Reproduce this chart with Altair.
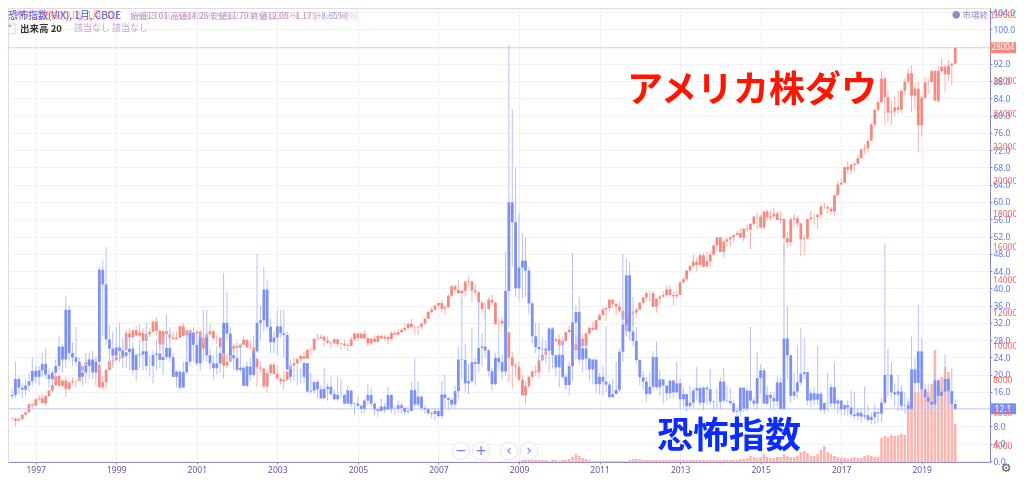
import altair as alt
import pandas as pd

W, H = 982, 454

# ---------------- data (monthly, Jun 1996 .. Nov 2019) ----------------
months = pd.date_range("1996-06-01", periods=282, freq="MS").strftime("%Y-%m-%d").tolist()
vol_months = pd.date_range("2009-01-01", periods=131, freq="MS").strftime("%Y-%m-%d").tolist()

vix_open_first = 15.0
vix_high = [
    16.8, 23.0, 19.5, 18.0, 19.0, 20.5, 24.0,
    22.0, 22.0, 25.0, 26.0, 21.5, 21.0, 23.5, 29.0, 27.0, 38.2, 36.0, 27.5,
    31.0, 24.0, 22.0, 25.0, 25.0, 25.5, 24.0, 45.0, 46.5, 49.5, 31.5, 30.0,
    31.0, 32.0, 28.5, 29.0, 28.5, 27.5, 25.0, 28.0, 28.0, 32.0, 24.5, 25.5,
    28.0, 27.5, 29.0, 34.0, 31.0, 25.0, 21.0, 21.0, 23.0, 30.0, 30.0, 31.0,
    29.5, 29.5, 35.0, 35.0, 26.0, 24.5, 26.5, 26.5, 43.5, 39.0, 31.0, 26.5,
    25.5, 27.0, 22.0, 23.0, 24.0, 29.0, 48.0, 36.0, 45.0, 42.0, 33.0, 30.0,
    35.0, 35.0, 35.0, 30.0, 23.5, 22.0, 22.0, 21.5, 23.0, 22.5, 20.5, 18.5,
    19.0, 17.5, 21.5, 18.0, 19.5, 16.5, 19.5, 19.0, 15.5, 17.5, 16.5, 13.5,
    14.8, 13.0, 14.5, 17.7, 17.0, 13.5, 12.5, 14.5, 13.5, 17.2, 15.5, 12.8,
    14.0, 13.5, 12.5, 12.5, 18.5, 23.8, 18.5, 15.2, 13.0, 12.2, 11.5, 12.3,
    12.0, 18.5, 20.0, 14.8, 14.5, 17.5, 26.5, 37.5, 27.0, 22.5, 31.0, 24.0,
    37.6, 29.5, 35.6, 26.0, 21.5, 25.0, 29.5, 24.5, 48.4, 96.4, 81.5, 68.0,
    57.4, 52.7, 51.9, 45.0, 37.0, 32.0, 32.0, 28.6, 28.0, 31.0, 31.0, 24.5,
    27.3, 28.8, 20.0, 22.8, 48.2, 36.0, 38.0, 28.0, 27.0, 23.5, 23.5, 23.5,
    20.5, 22.0, 31.3, 18.5, 19.0, 23.0, 26.0, 48.0, 46.9, 46.0, 38.0, 31.0,
    23.5, 20.8, 19.5, 20.5, 25.5, 27.7, 21.0, 18.5, 17.5, 19.0, 19.0, 23.0,
    19.0, 17.0, 15.5, 17.5, 17.0, 21.9, 17.5, 17.3, 17.5, 21.3, 14.0, 17.0,
    19.5, 21.5, 17.5, 17.0, 14.0, 12.5, 17.0, 17.0, 17.0, 31.1, 14.8, 25.2,
    22.4, 21.5, 17.5, 16.0, 16.0, 19.5, 19.3, 50.0, 36.0, 24.5, 20.5, 26.8,
    30.9, 28.5, 20.5, 16.5, 17.0, 26.7, 16.0, 13.6, 20.5, 18.0, 23.0, 14.5,
    14.2, 13.2, 14.0, 16.3, 16.0, 12.0, 12.2, 17.3, 13.0, 11.2, 13.1, 11.8,
    14.6, 50.3, 26.0, 23.0, 18.0, 20.0, 17.5, 16.0, 14.5, 28.8, 23.8, 36.2,
    28.5, 18.0, 18.0, 14.5, 20.0, 19.0, 17.5, 24.8, 19.0, 21.5, 14.3,
]
vix_low = [
    14.0, 14.5, 15.5, 14.5, 15.0, 16.0, 17.5,
    18.0, 17.5, 19.5, 19.0, 17.0, 17.5, 18.5, 21.0, 20.5, 21.5, 23.0, 22.0,
    22.0, 18.5, 17.5, 18.0, 19.0, 19.0, 17.5, 21.0, 29.0, 27.0, 21.5, 22.0,
    24.0, 23.0, 21.5, 21.5, 21.0, 20.0, 18.5, 21.5, 21.0, 21.0, 19.5, 18.0,
    21.0, 21.5, 20.0, 23.5, 23.0, 19.5, 17.0, 16.5, 17.0, 20.0, 22.0, 23.0,
    22.0, 21.0, 27.0, 23.0, 21.0, 19.0, 20.0, 20.5, 24.0, 28.0, 23.0, 21.0,
    20.5, 20.5, 17.5, 17.0, 18.5, 19.5, 25.0, 28.0, 30.0, 30.5, 25.0, 25.0,
    24.5, 28.5, 24.0, 21.0, 18.5, 18.5, 17.5, 18.0, 18.0, 15.8, 15.5, 15.5,
    14.5, 14.5, 14.5, 14.0, 15.0, 14.0, 14.0, 14.5, 13.0, 13.5, 12.5, 11.0,
    12.5, 11.0, 11.0, 13.0, 12.5, 10.5, 10.2, 11.5, 11.0, 11.8, 11.2, 10.5,
    11.0, 11.0, 10.7, 10.8, 11.5, 12.5, 12.5, 11.5, 11.0, 10.6, 9.9, 9.4,
    9.9, 9.7, 12.0, 11.7, 12.1, 12.0, 14.5, 19.0, 16.0, 15.5, 18.0, 17.5,
    20.5, 22.0, 24.0, 19.5, 16.3, 17.5, 21.0, 19.0, 19.7, 31.0, 45.0, 38.0,
    37.2, 37.6, 38.0, 33.9, 27.2, 25.0, 23.0, 23.0, 22.5, 20.5, 21.4, 19.5,
    17.0, 19.0, 16.5, 15.2, 18.5, 23.5, 22.5, 20.5, 21.0, 18.5, 17.8, 15.8,
    15.5, 15.0, 16.0, 14.3, 14.5, 15.5, 16.0, 23.0, 29.0, 28.0, 26.5, 22.5,
    17.5, 16.5, 13.7, 15.5, 16.5, 16.5, 15.0, 13.3, 13.9, 14.5, 14.5, 15.5,
    12.3, 12.5, 11.3, 12.3, 12.2, 14.0, 12.7, 11.8, 13.0, 13.0, 11.9, 12.2,
    11.9, 13.5, 13.5, 12.9, 11.0, 10.3, 10.3, 11.2, 11.5, 13.5, 12.5, 11.9,
    15.5, 13.2, 13.0, 12.2, 11.8, 12.5, 11.8, 11.8, 19.0, 13.5, 14.1, 14.5,
    17.5, 19.0, 13.0, 12.5, 13.0, 13.0, 11.3, 11.0, 11.5, 12.5, 12.0, 11.0,
    10.6, 10.6, 10.6, 10.2, 9.6, 9.4, 8.8, 9.6, 9.0, 8.6, 8.6, 8.8,
    8.9, 13.0, 15.0, 14.5, 12.5, 11.5, 11.8, 11.0, 11.0, 11.6, 16.0, 15.6,
    16.2, 13.5, 12.0, 11.0, 12.3, 14.0, 11.7, 15.8, 13.0, 12.2, 11.8,
]
vix_close = [
    15.3, 19.0, 17.0, 16.5, 17.5, 18.5, 20.9,
    19.5, 21.0, 22.5, 20.0, 19.0, 20.5, 22.0, 26.5, 23.5, 35.0, 25.0, 24.0,
    23.0, 19.5, 20.5, 22.0, 23.5, 20.5, 23.0, 44.3, 40.9, 28.2, 26.0, 24.4,
    26.3, 25.5, 24.3, 25.2, 26.0, 21.1, 24.5, 24.7, 25.4, 22.0, 22.0, 24.6,
    24.9, 23.4, 24.1, 26.2, 24.0, 19.5, 20.7, 17.0, 20.6, 23.0, 29.7, 26.9,
    22.6, 28.6, 28.6, 24.5, 22.6, 21.5, 22.6, 25.0, 32.0, 29.5, 24.5, 23.8,
    21.1, 21.6, 17.4, 21.9, 19.9, 25.4, 32.0, 32.6, 39.7, 31.1, 27.5, 28.6,
    31.2, 29.6, 29.2, 21.2, 19.5, 19.5, 19.5, 19.5, 22.7, 16.1, 16.3, 18.3,
    16.6, 14.5, 16.7, 17.2, 15.5, 14.3, 15.3, 15.3, 13.3, 16.3, 13.2, 13.3,
    12.8, 12.1, 14.0, 15.3, 13.3, 12.0, 11.6, 12.6, 11.9, 15.3, 12.1, 12.1,
    12.9, 12.3, 11.4, 11.6, 16.4, 13.1, 14.9, 12.3, 12.0, 11.1, 10.9, 11.6,
    10.4, 15.4, 14.6, 14.2, 13.1, 16.2, 23.5, 23.4, 18.0, 18.5, 22.9, 22.5,
    26.2, 26.5, 25.6, 20.8, 17.8, 23.9, 22.9, 20.7, 39.4, 59.9, 55.3, 40.0,
    44.8, 46.4, 44.1, 36.5, 28.9, 26.4, 25.9, 26.0, 25.6, 30.7, 24.5, 21.7,
    24.6, 19.5, 17.6, 22.0, 32.1, 34.5, 23.5, 26.1, 23.7, 21.2, 23.5, 17.8,
    19.5, 18.4, 17.7, 14.8, 15.5, 16.5, 25.3, 31.6, 43.0, 30.0, 27.8, 23.4,
    19.4, 18.4, 15.5, 17.2, 24.1, 17.1, 18.9, 17.5, 15.7, 18.6, 15.9, 18.0,
    14.3, 15.5, 12.7, 13.5, 16.3, 16.9, 13.5, 17.0, 16.6, 13.8, 13.7, 13.7,
    18.4, 14.0, 13.9, 13.4, 11.4, 11.6, 17.0, 12.1, 16.3, 14.0, 13.3, 19.2,
    21.0, 13.3, 15.3, 14.6, 13.8, 18.2, 12.1, 28.4, 24.5, 15.1, 16.1, 18.2,
    20.2, 20.6, 14.0, 15.7, 14.2, 15.6, 11.9, 13.4, 13.3, 17.1, 13.3, 14.0,
    12.0, 12.9, 12.4, 10.8, 10.4, 11.2, 10.3, 10.6, 9.5, 10.2, 11.3, 11.0,
    13.5, 19.9, 20.0, 15.9, 15.4, 16.1, 12.8, 12.9, 12.1, 21.2, 18.1, 25.4,
    16.6, 14.8, 13.7, 13.1, 18.7, 15.1, 16.1, 19.0, 16.2, 13.2, 12.1,
]

dow_open_first = 5643
dow_high = [
    5730, 5700, 5720, 5920, 6100, 6560, 6600,
    6880, 7080, 7160, 7080, 7420, 7800, 8260, 8300, 8000, 8180, 7920, 8150,
    7990, 8600, 8900, 9210, 9230, 9080, 9370, 8930, 8220, 8650, 9420, 9370,
    9650, 9560, 10080, 11000, 11110, 11030, 11250, 11330, 11100, 10800, 11100, 11570,
    11750, 11040, 11080, 11400, 11000, 10900, 10900, 11310, 11400, 11000, 11050, 10900,
    10990, 11000, 10700, 10860, 11350, 11000, 10700, 10580, 10000, 9580, 9940, 10200,
    10300, 10200, 10670, 10450, 10370, 10000, 9400, 9080, 8720, 8600, 9000, 9000,
    8870, 8140, 8550, 8520, 8900, 9350, 9350, 9500, 9690, 9850, 9950, 10480,
    10750, 10760, 10700, 10600, 10300, 10500, 10450, 10250, 10400, 10200, 10600, 10850,
    10800, 10850, 10980, 10620, 10550, 10700, 10720, 10720, 10700, 10650, 10940, 10960,
    11050, 11100, 11330, 11400, 11670, 11260, 11250, 11430, 11720, 12170, 12360, 12510,
    12630, 12800, 12500, 13150, 13680, 13700, 14020, 13400, 14000, 14200, 13950, 13790,
    13280, 12770, 12650, 13000, 13140, 12700, 11700, 11800, 11800, 10900, 9650, 9030,
    9090, 8280, 7930, 8200, 8580, 8880, 9200, 9630, 9920, 10120, 10470, 10580,
    10730, 10400, 10900, 11260, 11200, 10600, 10600, 10720, 10860, 11250, 11450, 11600,
    11990, 12400, 12420, 12880, 12880, 12600, 12750, 12300, 11720, 12280, 12130, 12320,
    12700, 13000, 13300, 13340, 13340, 12900, 13100, 13330, 13650, 13660, 13290, 13350,
    13970, 14150, 14600, 14890, 15540, 15350, 15660, 15660, 15710, 15720, 16170, 16590,
    16590, 16400, 16590, 16630, 16760, 16980, 17150, 17130, 17350, 17400, 17900, 18100,
    17950, 18150, 18290, 18200, 18350, 18150, 18140, 17700, 16930, 17800, 17980, 17900,
    17400, 16750, 17720, 18170, 18000, 18020, 18620, 18670, 18530, 18400, 19150, 19990,
    20130, 20850, 21170, 21070, 21110, 21540, 21930, 22180, 22420, 23490, 24330, 24880,
    26620, 26310, 25450, 24860, 25090, 25400, 25500, 26170, 26770, 26950, 25900, 25980,
    25100, 26240, 26160, 26700, 26700, 26910, 27400, 27000, 27310, 27120, 28090,
]
dow_low = [
    5580, 5170, 5520, 5580, 5870, 6000, 6230,
    6390, 6720, 6560, 6390, 6970, 7240, 7640, 7600, 7550, 6940, 7350, 7650,
    7500, 7900, 8470, 8780, 8850, 8630, 8850, 7460, 7400, 7470, 8560, 8700,
    9050, 9080, 9280, 9760, 10500, 10450, 10650, 10560, 10250, 9880, 10550, 10850,
    10700, 9860, 9730, 10300, 10300, 10370, 10400, 10510, 10600, 9650, 10400, 10300,
    10450, 10400, 9100, 9390, 10600, 10400, 10150, 9900, 8060, 8700, 9050, 9600,
    9700, 9630, 10100, 9900, 9800, 9100, 7530, 8400, 7500, 7200, 8250, 8300,
    8000, 7700, 7400, 7900, 8300, 8800, 8900, 9050, 9250, 9250, 9500, 9750,
    10400, 10450, 10000, 10150, 9850, 10100, 9950, 9800, 9950, 9700, 10000, 10350,
    10350, 10450, 10400, 10000, 10080, 10250, 10250, 10400, 10350, 10150, 10400, 10700,
    10650, 10800, 10950, 11000, 11100, 10700, 10680, 11050, 11250, 11640, 11980, 12150,
    12350, 12050, 11940, 12340, 12950, 13250, 13150, 12500, 13000, 13650, 12700, 13030,
    11630, 12050, 11730, 12200, 12450, 11300, 10830, 11200, 10360, 7880, 7450, 8150,
    7900, 7000, 6470, 7500, 8000, 8200, 8090, 9100, 9250, 9650, 9680, 10250,
    10050, 9840, 10300, 10850, 9770, 9740, 9610, 9930, 9930, 10700, 10950, 11000,
    11580, 11850, 11550, 12100, 12300, 11860, 12080, 10600, 10600, 10400, 11230, 11730,
    12200, 12600, 12750, 12700, 12380, 12040, 12500, 12900, 13000, 13050, 12470, 12880,
    13100, 13780, 13940, 14440, 14740, 14550, 14900, 14760, 14770, 14720, 15470, 15700,
    15690, 15340, 16000, 16000, 16250, 16660, 16560, 16330, 16900, 15850, 17300, 17070,
    17140, 17040, 17580, 17580, 17740, 17590, 17400, 15370, 15940, 16010, 17210, 17140,
    15450, 15500, 16410, 17480, 17330, 17060, 17710, 18290, 17990, 17960, 17880, 19050,
    19680, 19830, 20410, 20380, 20550, 20990, 21280, 21600, 21710, 22420, 23240, 24150,
    24740, 23360, 23510, 23340, 23880, 24010, 24080, 25120, 25820, 24120, 24270, 21710,
    22640, 24880, 25210, 25990, 24820, 24680, 26500, 25340, 25980, 25740, 27000,
]
dow_close = [
    5654, 5529, 5616, 5882, 6029, 6521, 6448,
    6813, 6878, 6583, 7009, 7331, 7673, 8223, 7622, 7945, 7442, 7823, 7908,
    7907, 8546, 8800, 9063, 8900, 8952, 8883, 7539, 7843, 8592, 9117, 9181,
    9359, 9307, 9786, 10789, 10560, 10971, 10655, 10829, 10337, 10730, 10878, 11497,
    10941, 10128, 10922, 10734, 10522, 10448, 10522, 11215, 10651, 10971, 10415, 10788,
    10887, 10495, 9879, 10735, 10912, 10502, 10523, 9950, 8848, 9075, 9852, 10021,
    9920, 10106, 10404, 9946, 9925, 9243, 8737, 8664, 7592, 8397, 8896, 8342,
    8054, 7891, 7992, 8480, 8850, 8985, 9234, 9416, 9275, 9801, 9782, 10454,
    10488, 10584, 10358, 10226, 10188, 10435, 10140, 10174, 10080, 10027, 10428, 10783,
    10490, 10766, 10504, 10193, 10467, 10275, 10641, 10482, 10569, 10440, 10806, 10718,
    10865, 10993, 11109, 11367, 11168, 11150, 11186, 11381, 11679, 12081, 12222, 12463,
    12622, 12269, 12354, 13063, 13628, 13409, 13212, 13358, 13896, 13930, 13372, 13265,
    12650, 12266, 12263, 12820, 12638, 11350, 11378, 11544, 10851, 9325, 8829, 8776,
    8001, 7063, 7609, 8168, 8500, 8447, 9172, 9496, 9712, 9713, 10345, 10428,
    10067, 10325, 10857, 11009, 10137, 9774, 10466, 10015, 10788, 11118, 11006, 11578,
    11892, 12226, 12320, 12811, 12570, 12414, 12143, 11614, 10913, 11955, 12046, 12218,
    12633, 12952, 13212, 13214, 12393, 12880, 13009, 13091, 13437, 13096, 13026, 13104,
    13861, 14054, 14579, 14840, 15116, 14910, 15500, 14810, 15130, 15546, 16086, 16577,
    15699, 16322, 16458, 16581, 16717, 16827, 16563, 17098, 17043, 17391, 17828, 17823,
    17165, 18133, 17776, 17841, 18011, 17620, 17690, 16528, 16285, 17664, 17720, 17425,
    16466, 16517, 17685, 17774, 17787, 17930, 18432, 18401, 18308, 18142, 19124, 19763,
    19864, 20812, 20663, 20941, 21009, 21350, 21891, 21948, 22405, 23377, 24272, 24719,
    26149, 25029, 24103, 24163, 24416, 24271, 25415, 25965, 26458, 25116, 25538, 23327,
    24999, 25916, 25929, 26593, 24815, 26600, 26864, 26403, 26917, 27046, 28004,
]

volume = [
    1, 2, 2, 2, 2, 2, 2, 2, 2, 1, 2, 2,
    1, 2, 2, 3, 5, 8, 6, 4, 3, 2, 1, 1,
    1, 1, 1, 1, 1, 1, 1, 1, 1, 2, 3, 3,
    3, 2, 2, 2, 2, 2, 2, 2, 2, 2, 2, 2,
    2, 2, 2, 2, 2, 2, 2, 2, 2, 2, 2, 2,
    2, 2, 2, 2, 2, 2, 3, 3, 4, 6, 5, 4,
    5, 8, 5, 4, 4, 5, 5, 8, 6, 5, 5, 6,
    10, 11, 9, 6, 6, 8, 12, 16, 10, 8, 6, 5,
    4, 4, 3, 4, 5, 4, 4, 6, 7, 6, 5, 5,
    24, 26, 25, 27, 26, 27, 28, 27, 60, 75, 70, 70,
    72, 68, 70, 78, 112, 80, 85, 95, 90, 70, 38,
]

vix_ticks = list(range(0, 105, 4))
dow_ticks = list(range(4000, 30001, 2000))
year_ticks = list(range(1997, 2021, 2))

# ---------------- frames ----------------
vix = pd.DataFrame({"date": months, "open": [vix_open_first] + vix_close[:-1],
                    "high": vix_high, "low": vix_low, "close": vix_close})
vix["high"] = vix[["high", "open", "close"]].max(axis=1)
vix["low"] = vix[["low", "open", "close"]].min(axis=1)

dow = pd.DataFrame({"date": months, "open": [dow_open_first] + dow_close[:-1],
                    "high": dow_high, "low": dow_low, "close": dow_close})
dow["high"] = dow[["high", "open", "close"]].max(axis=1)
dow["low"] = dow[["low", "open", "close"]].min(axis=1)

vol = pd.DataFrame({"date": vol_months, "vol": volume})
vix_last = pd.DataFrame({"v": [vix_close[-1]]})
dow_last = pd.DataFrame({"v": [dow_close[-1]]})
dow_lab = pd.DataFrame({"v": dow_ticks})
DUMMY = pd.DataFrame({"k": [0]})

# ---------------- scales / axes ----------------
X_SCALE = alt.Scale(type="utc", nice=False,
                    domain=[alt.DateTime(year=1996, month=6, date=9, utc=True),
                            alt.DateTime(year=2020, month=7, date=28, utc=True)])
X_AXIS = alt.Axis(values=[alt.DateTime(year=y, month=1, date=1, utc=True) for y in year_ticks],
                  format="%Y", title=None, labelColor="#6b4f9e", labelFontSize=8.5,
                  labelFont="Noto Sans", tickSize=2, labelPadding=1, tickColor="#9a8cc8",
                  domainColor="#9a8cc8", grid=True, gridColor="#f4eff7")
VIX_SCALE = alt.Scale(domain=[-0.23, 104.93], nice=False, zero=False)
DOW_SCALE = alt.Scale(domain=[3036, 30401], nice=False, zero=False)
VOL_SCALE = alt.Scale(domain=[0, 454], nice=False, zero=True)
VIX_AXIS = alt.Axis(orient="right", values=vix_ticks, format=".1f", title=None,
                    labelColor="#5f73ee", labelFontSize=8.5, labelFont="Noto Sans",
                    tickColor="#7a8cf0", tickSize=2, labelPadding=1,
                    domainColor="#8f80cf", grid=True, gridColor="#f2f1f8")


def X():
    return alt.X("date:T", scale=X_SCALE, axis=X_AXIS)


BOX = "M-1,-0.42H1V0.42H-1Z"

# volume
vol_layer = alt.Chart(vol).mark_bar(size=2.6, color="#f9b6af", clip=True, blend="multiply").encode(
    x=X(), y=alt.Y("vol:Q", scale=VOL_SCALE, axis=None))

# Dow
dow_layer = alt.layer(
    alt.Chart(dow_last).mark_rule(color="#f9c9c4", strokeWidth=1).encode(
        y=alt.Y("v:Q", scale=DOW_SCALE, axis=None)),
    alt.Chart(dow).mark_rule(color="#f7b1ab", strokeWidth=1, clip=True, blend="multiply").encode(
        x=X(), y=alt.Y("high:Q", scale=DOW_SCALE, axis=None), y2="low:Q"),
    alt.Chart(dow).mark_bar(color="#f48a81", size=2.8, clip=True, blend="multiply").encode(
        x=X(), y=alt.Y("open:Q", scale=DOW_SCALE, axis=None), y2="close:Q"),
)

# VIX
vix_layer = alt.layer(
    alt.Chart(vix_last).mark_rule(color="#c6cdf8", strokeWidth=1).encode(
        y=alt.Y("v:Q", scale=VIX_SCALE, axis=VIX_AXIS)),
    alt.Chart(vix).mark_rule(color="#b6c0f8", strokeWidth=1, clip=True, blend="multiply").encode(
        x=X(), y=alt.Y("high:Q", scale=VIX_SCALE, axis=VIX_AXIS), y2="low:Q"),
    alt.Chart(vix).mark_bar(color="#7d90f4", size=2.8, clip=True, blend="multiply").encode(
        x=X(), y=alt.Y("open:Q", scale=VIX_SCALE, axis=VIX_AXIS), y2="close:Q"),
    alt.Chart(vix_last).mark_point(shape=BOX, size=676, filled=True, color="#7b8ef3", opacity=1).encode(
        x=alt.value(W + 13), y=alt.Y("v:Q", scale=VIX_SCALE, axis=VIX_AXIS)),
    alt.Chart(vix_last).mark_text(color="white", fontSize=8.5, font="Noto Sans").encode(
        x=alt.value(W + 13), y=alt.Y("v:Q", scale=VIX_SCALE, axis=VIX_AXIS),
        text=alt.Text("v:Q", format=".1f")),
)

# Dow price labels on the right + current price box
dow_labels = alt.layer(
    alt.Chart(dow_lab).mark_text(align="left", baseline="middle", color="#f4675c",
                                 fontSize=8.5, font="Noto Sans").encode(
        x=alt.value(W + 3), y=alt.Y("v:Q", scale=DOW_SCALE, axis=None),
        text=alt.Text("v:Q", format="d")),
    alt.Chart(dow_last).mark_point(shape=BOX, size=676, filled=True, color="#f8877d", opacity=1).encode(
        x=alt.value(W + 13), y=alt.Y("v:Q", scale=DOW_SCALE, axis=None)),
    alt.Chart(dow_last).mark_text(color="white", fontSize=8, font="Noto Sans").encode(
        x=alt.value(W + 13), y=alt.Y("v:Q", scale=DOW_SCALE, axis=None),
        text=alt.Text("v:Q", format="d")),
)


def label(txt, x, y, size=10, color="#333333", weight="normal", align="left",
          baseline="top", font="Noto Sans CJK JP", opacity=1.0):
    return alt.Chart(DUMMY).mark_text(text=txt, align=align, baseline=baseline, fontSize=size,
                                      font=font, fontWeight=weight, color=color,
                                      opacity=opacity).encode(x=alt.value(x), y=alt.value(y))


def button(x, y, sym):
    return alt.layer(
        alt.Chart(DUMMY).mark_point(shape="circle", size=300, filled=True, fill="white",
                                    stroke="#dfe3fb", strokeWidth=1, opacity=1, fillOpacity=1).encode(
            x=alt.value(x), y=alt.value(y)),
        label(sym, x, y, size=14, color="#6a7cf0", align="center", baseline="middle",
              font="DejaVu Sans"),
    )


annots = [
    label("恐怖指数(VIX), 1月, CBOE", 0, 3, size=10, color="#3f55e8"),
    label("ダウ工業株(DJI), 1月, DJ", 2, 3, size=10, color="#f05a4f", opacity=0.6),
    label("始値13.01 高値14.26 安値11.79 終値12.05 −1.17 (−8.85%)", 122, 4, size=8.5,
          color="#8a96ee", opacity=0.9),
    label("始値27046 高値28090 安値27000 終値28004 +958 (+3.54%)", 124, 4, size=8.5,
          color="#f28a82", opacity=0.55),
    alt.Chart(DUMMY).mark_point(shape="square", size=100, filled=False, stroke="#d6d6de",
                                strokeWidth=1, opacity=1).encode(x=alt.value(2), y=alt.value(21)),
    label("˅", 2, 21, size=9, color="#555555", align="center", baseline="middle", font="DejaVu Sans"),
    label("出来高 20", 12, 16, size=9.5, color="#333333", weight="bold"),
    label("該当なし  該当なし", 66, 16, size=9, color="#c9a3d6"),
    label("● 市場終了", 944, 3, size=8.5, color="#9b86c0"),
    label("アメリカ株ダウ", 744, 83, size=36, color="#ff1500", weight="bold",
          align="center", baseline="middle"),
    label("恐怖指数", 721, 429, size=36, color="#0a2cff", weight="bold",
          align="center", baseline="middle"),
    button(453, 443, "−"),
    button(473, 443, "+"),
    button(501, 443, "‹"),
    button(521, 443, "›"),
    label("⚙", W + 16, 460, size=12, color="#555555", align="center", baseline="middle",
          font="DejaVu Sans"),
]

chart = alt.layer(vol_layer, dow_layer, vix_layer, dow_labels, *annots).resolve_scale(
    y="independent"
).properties(
    width=W, height=H,
    autosize=alt.AutoSizeParams(type="none"),
    padding={"left": 0, "top": 0, "right": 26, "bottom": 12},
).configure_view(stroke=None).configure(background="white")

chart.save("out.html", embed_options={"renderer": "svg", "actions": False})
